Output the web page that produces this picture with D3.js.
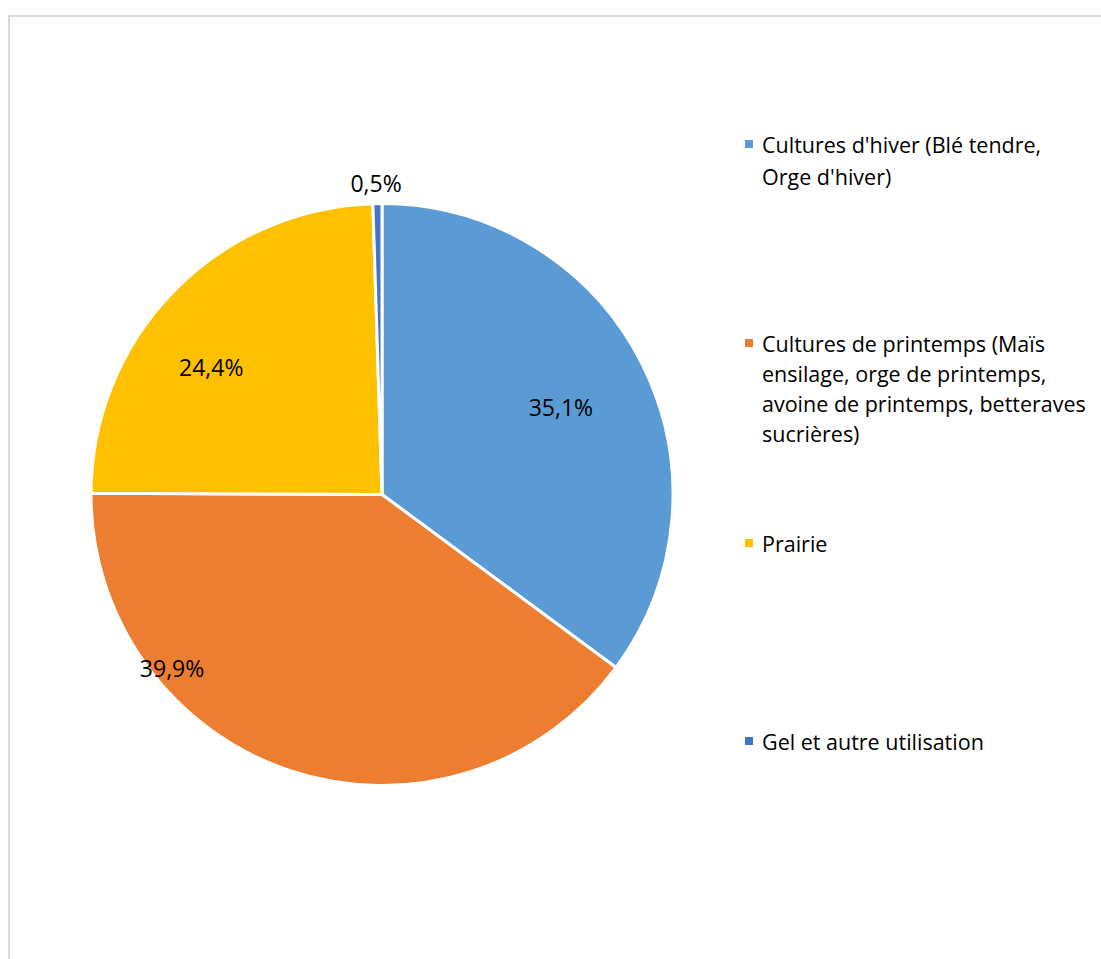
<!DOCTYPE html>
<html>
<head>
<meta charset="utf-8">
<script src="https://cdn.jsdelivr.net/npm/d3@7"></script>
<style>
  body { margin: 0; background: #fff; }
  text { font-family: "Open Sans", "Noto Sans", sans-serif; fill: #000; }
</style>
</head>
<body>
<div id="chart"></div>
<script>
// data
var categories = [
  "Cultures d'hiver (Blé tendre, Orge d'hiver)",
  "Cultures de printemps (Maïs ensilage, orge de printemps, avoine de printemps, betteraves sucrières)",
  "Prairie",
  "Gel et autre utilisation"
];
var values = [35.1, 39.9, 24.4, 0.5];
var valueLabels = ["35,1%", "39,9%", "24,4%", "0,5%"];
var legendLines = [
  ["Cultures d'hiver (Blé tendre,", "Orge d'hiver)"],
  ["Cultures de printemps (Maïs", "ensilage, orge de printemps,", "avoine de printemps, betteraves", "sucrières)"],
  ["Prairie"],
  ["Gel et autre utilisation"]
];
var colors = ["#5b9bd5", "#ed7d31", "#ffc000", "#4472c4"];

var width = 1101, height = 959;
var cx = 382, cy = 494.5, radius = 291;

// label placement (Excel "best fit"), polar: fraction of radius, angle in degrees from top
var labelPolar = [
  {r: 0.684, a: 64},
  {r: 0.935, a: 230.5},
  {r: 0.733, a: 306.8},
  {r: 1.07, a: 358.9}
];

var svg = d3.select("#chart").append("svg")
    .attr("width", width)
    .attr("height", height);

// chart frame
svg.append("rect")
    .attr("x", 9)
    .attr("y", 16)
    .attr("width", width + 10)
    .attr("height", height + 10)
    .attr("fill", "none")
    .attr("stroke", "#d9d9d9")
    .attr("stroke-width", 2);

var pie = d3.pie().sort(null).value(function(d) { return d; });
var arc = d3.arc().innerRadius(0).outerRadius(radius);

var g = svg.append("g")
    .attr("transform", "translate(" + cx + "," + cy + ")");

g.selectAll(".slice")
    .data(pie(values))
  .enter().append("path")
    .attr("class", "slice")
    .attr("d", arc)
    .attr("fill", function(d, i) { return colors[i]; })
    .attr("stroke", "#fff")
    .attr("stroke-width", 3)
    .attr("stroke-linejoin", "round");

g.selectAll(".lbl")
    .data(valueLabels)
  .enter().append("text")
    .attr("class", "lbl")
    .attr("x", function(d, i) { return Math.sin(labelPolar[i].a * Math.PI / 180) * labelPolar[i].r * radius; })
    .attr("y", function(d, i) { return -Math.cos(labelPolar[i].a * Math.PI / 180) * labelPolar[i].r * radius; })
    .attr("text-anchor", "middle")
    .attr("dominant-baseline", "central")
    .style("font-size", "23px")
    .text(function(d) { return d; });

// legend
var legendTop = [144, 343, 543, 741];
var lineH = 30;
var legend = svg.append("g");

categories.forEach(function(c, i) {
  var item = legend.append("g").attr("transform", "translate(745," + legendTop[i] + ")");
  item.append("rect")
      .attr("x", 0)
      .attr("y", -4)
      .attr("width", 8)
      .attr("height", 8)
      .attr("fill", colors[i]);
  item.selectAll("text")
      .data(legendLines[i])
    .enter().append("text")
      .attr("x", 17)
      .attr("y", function(d, j) { return j * (i === 0 ? 32 : lineH); })
      .attr("dominant-baseline", "central")
      .style("font-size", "21.5px")
      .text(function(d) { return d; });
});
</script>
</body>
</html>
